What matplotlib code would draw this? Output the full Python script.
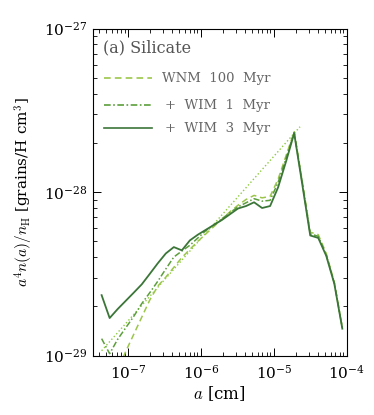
import matplotlib
matplotlib.use("Agg")
import matplotlib.pyplot as plt
from matplotlib.ticker import LogLocator, NullFormatter

# grain radius grid, log10(a / cm)
log_a = [-7.36, -7.25, -7.14, -7.03, -6.92, -6.81, -6.70, -6.59, -6.48, -6.37,
         -6.26, -6.15, -6.04, -5.93, -5.82, -5.71, -5.60, -5.49, -5.38, -5.27,
         -5.16, -5.05, -4.94, -4.83, -4.72, -4.61, -4.50, -4.39, -4.28, -4.17,
         -4.06]

# log10(a^4 n(a)/n_H)
log_wnm100 = [-29.35, -29.22, -29.09, -28.975, -28.87, -28.765, -28.66, -28.575,
              -28.52, -28.46, -28.40, -28.35, -28.30, -28.255, -28.21, -28.165,
              -28.12, -28.08, -28.045, -28.02, -28.035, -28.026, -27.92, -27.775,
              -27.63, -27.93, -28.245, -28.26, -28.375, -28.55, -28.83]
log_wim1 = [-28.896, -28.988, -28.90, -28.83, -28.76, -28.682, -28.615, -28.545,
            -28.47, -28.397, -28.36, -28.325, -28.28, -28.235, -28.20, -28.163,
            -28.125, -28.09, -28.065, -28.04, -28.055, -28.05, -27.94, -27.79,
            -27.635, -27.94, -28.255, -28.27, -28.385, -28.555, -28.83]
log_wim3 = [-28.63, -28.77, -28.715, -28.665, -28.615, -28.564, -28.50, -28.435,
            -28.375, -28.336, -28.356, -28.295, -28.26, -28.23, -28.20, -28.17,
            -28.135, -28.10, -28.085, -28.062, -28.097, -28.085, -27.97, -27.81,
            -27.64, -27.95, -28.265, -28.28, -28.39, -28.56, -28.835]

# initial power law (dotted)
log_a_init = [-7.36, -4.64]
log_init = [-28.97, -27.60]

x_ticks = [1e-7, 1e-6, 1e-5, 1e-4]
y_ticks = [1e-29, 1e-28, 1e-27]

C_WNM = "#9cc64a"
C_WIM1 = "#5c9e3c"
C_WIM3 = "#3b7638"
C_INIT = "#8fcb40"

plt.rcParams.update({
    "font.family": "DejaVu Serif",
    "mathtext.fontset": "cm",
    "font.size": 10,
    "axes.linewidth": 0.8,
})

a = [10 ** v for v in log_a]

fig = plt.figure(figsize=(3.74, 4.15), dpi=100)
ax = fig.add_axes([0.248, 0.143, 0.679, 0.788])

ax.plot([10 ** v for v in log_a_init], [10 ** v for v in log_init],
        ls=":", color=C_INIT, lw=1.0)
ax.plot(a, [10 ** v for v in log_wnm100], ls=(0, (4, 2.5)), color=C_WNM, lw=1.1)
ax.plot(a, [10 ** v for v in log_wim1], ls=(0, (4, 1.5, 1, 1.5)), color=C_WIM1, lw=1.1)
ax.plot(a, [10 ** v for v in log_wim3], ls="-", color=C_WIM3, lw=1.3)

ax.set_xscale("log")
ax.set_yscale("log")
ax.set_xticks(x_ticks)
ax.set_yticks(y_ticks)
ax.set_xlim(3.3e-8, 1e-4)
ax.set_ylim(1e-29, 1e-27)

ax.xaxis.set_minor_locator(LogLocator(base=10, subs=range(2, 10), numticks=20))
ax.yaxis.set_minor_locator(LogLocator(base=10, subs=range(2, 10), numticks=20))
ax.xaxis.set_minor_formatter(NullFormatter())
ax.yaxis.set_minor_formatter(NullFormatter())
ax.tick_params(which="both", direction="in", top=True, right=True, labelsize=11)
ax.tick_params(which="major", length=6, width=0.7)
ax.tick_params(which="minor", length=3, width=0.6)
ax.tick_params(axis="x", pad=6)
ax.tick_params(axis="y", pad=4)

ax.set_xlabel(r"$a$ [cm]", fontsize=12, labelpad=2)
ax.set_ylabel(r"$a^4n(a)/n_{\rm H}$ [grains/H cm$^3$]", fontsize=11, labelpad=6)

# legend block
ax.text(0.04, 0.94, "(a) Silicate", transform=ax.transAxes, fontsize=11.5,
        color="#555555", va="center")
rows = [("WNM  100  Myr", C_WNM, (0, (4, 2.5)), 0.273),
        ("+  WIM  1  Myr", C_WIM1, (0, (4, 1.5, 1, 1.5)), 0.285),
        ("+  WIM  3  Myr", C_WIM3, "-", 0.285)]
ys = [0.849, 0.766, 0.696]
for (lab, col, ls, tx), y in zip(rows, ys):
    ax.plot([0.043, 0.233], [y, y], transform=ax.transAxes, color=col, ls=ls, lw=1.2)
    ax.text(tx, y, lab, transform=ax.transAxes, fontsize=9.5,
            color="#666666", va="center")

fig.savefig("out.png", dpi=100)
